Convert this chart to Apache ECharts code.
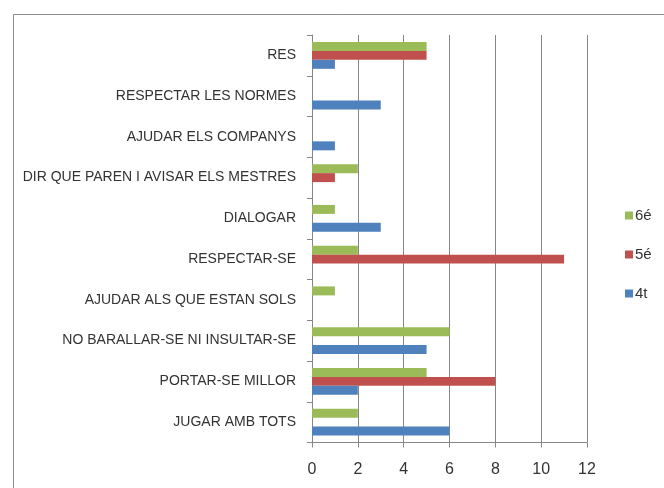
<!DOCTYPE html>
<html>
<head>
<meta charset="utf-8">
<script src="https://cdn.jsdelivr.net/npm/echarts@6/dist/echarts.min.js"></script>
<style>
  html, body { margin: 0; padding: 0; background: #fff; }
  #chart { width: 664px; height: 488px; }
</style>
</head>
<body>
<div id="chart"></div>
<script>
// categories, top to bottom
const categories = [
  'RES',
  'RESPECTAR LES NORMES',
  'AJUDAR ELS COMPANYS',
  'DIR QUE PAREN I AVISAR ELS MESTRES',
  'DIALOGAR',
  'RESPECTAR-SE',
  'AJUDAR ALS QUE ESTAN SOLS',
  'NO BARALLAR-SE NI INSULTAR-SE',
  'PORTAR-SE MILLOR',
  'JUGAR AMB TOTS'
];
const sisè = [5, 0, 0, 2, 1, 2, 1, 6, 5, 2];
const cinquè = [5, 0, 0, 1, 0, 11, 0, 0, 8, 0];
const quart = [1, 3, 1, 0, 3, 0, 0, 5, 2, 6];
const xTicks = [0, 12, 2]; // min, max, interval

const font = '"Liberation Sans Narrow", "Liberation Sans", sans-serif';

const chart = echarts.init(document.getElementById('chart'));
chart.setOption({
  animation: false,
  textStyle: { fontFamily: font },
  graphic: [{
    type: 'rect',
    shape: { x: 13.5, y: 14.5, width: 700, height: 500 },
    style: { fill: 'none', stroke: '#8c8c8c', lineWidth: 1 }
  }],
  legend: {
    orient: 'vertical',
    left: 620,
    top: 203,
    itemWidth: 8,
    itemHeight: 8,
    itemGap: 24,
    data: ['6é', '5é', '4t'],
    textStyle: { fontFamily: font, fontSize: 15, color: '#333', padding: [0, 0, 0, -3] },
    icon: 'rect'
  },
  grid: { left: 312, top: 35, width: 275, height: 407.5, containLabel: false },
  xAxis: {
    type: 'value',
    min: xTicks[0],
    max: xTicks[1],
    interval: xTicks[2],
    axisLine: { show: true, lineStyle: { color: '#868686' } },
    axisTick: { show: true, length: 5, lineStyle: { color: '#868686' } },
    splitLine: { show: true, lineStyle: { color: '#868686' } },
    axisLabel: { fontFamily: font, fontSize: 16, color: '#333', margin: 19 }
  },
  yAxis: {
    type: 'category',
    inverse: true,
    data: categories,
    axisLine: { show: true, lineStyle: { color: '#868686' } },
    axisTick: { show: true, length: 5, lineStyle: { color: '#868686' } },
    axisLabel: { fontFamily: font, fontSize: 14, color: '#333', margin: 16 }
  },
  series: [
    { name: '6é', type: 'bar', data: sisè, itemStyle: { color: '#9BBB59' }, barGap: '0%', barCategoryGap: '34%' },
    { name: '5é', type: 'bar', data: cinquè, itemStyle: { color: '#C0504D' }, barGap: '0%', barCategoryGap: '34%' },
    { name: '4t', type: 'bar', data: quart, itemStyle: { color: '#4F81BD' }, barGap: '0%', barCategoryGap: '34%' }
  ]
});
</script>
</body>
</html>
